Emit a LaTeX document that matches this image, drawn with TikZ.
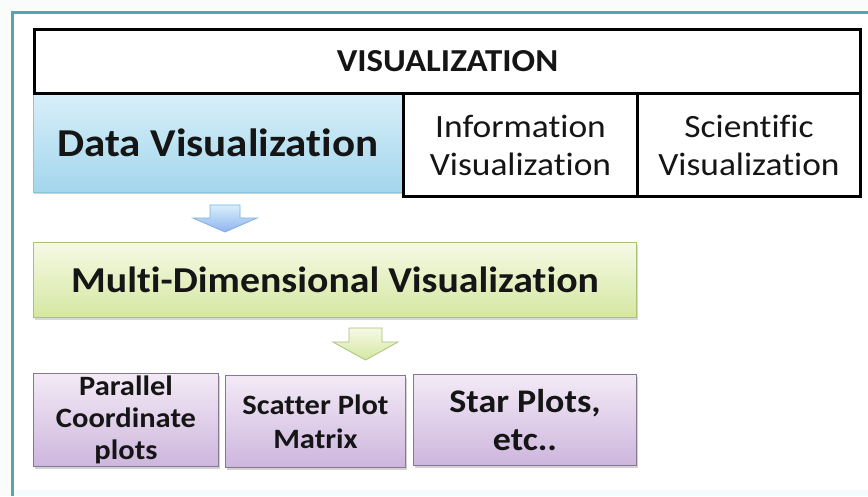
\documentclass[tikz,border=0pt]{standalone}
\usepackage{fontspec}
\setmainfont[Ligatures={NoCommon},FakeStretch=1.09]{Carlito}
\usetikzlibrary{shadows}
\definecolor{framec}{HTML}{5AA5AC}
\definecolor{dvtop}{HTML}{D8EFF9}
\definecolor{dvbot}{HTML}{A3D6EC}
\definecolor{dvedge}{HTML}{8CC4DC}
\definecolor{mdtop}{HTML}{F6F9E4}
\definecolor{mdbot}{HTML}{D5E7A2}
\definecolor{mdedge}{HTML}{A9C27A}
\definecolor{pptop}{HTML}{F3EAF6}
\definecolor{ppbot}{HTML}{CDB6DD}
\definecolor{ppedge}{HTML}{857890}
\definecolor{txt}{HTML}{151515}
\tikzset{
  blackbox/.style={draw=black, line width=3pt, fill=white, inner sep=0pt, align=center, anchor=north west, text=txt},
  databox/.style={top color=dvtop, bottom color=dvbot, draw=dvedge, line width=0.6pt, inner sep=0pt, anchor=north west, text=txt,
    drop shadow={shadow xshift=1pt, shadow yshift=-2pt, opacity=0.35, fill=gray}},
  mdbox/.style={top color=mdtop, bottom color=mdbot, draw=mdedge, line width=1pt, inner sep=0pt, anchor=north west, text=txt,
    drop shadow={shadow xshift=1pt, shadow yshift=-2pt, opacity=0.3, fill=gray}},
  ppbox/.style={top color=pptop, bottom color=ppbot, draw=ppedge, line width=1pt, inner sep=0pt, anchor=north west, align=center, text=txt,
    drop shadow={shadow xshift=1pt, shadow yshift=-2pt, opacity=0.35, fill=gray}},
  bluearrow/.style={top color=dvtop, bottom color=dvbot!80!blue!90, draw=dvedge!90!blue, line width=0.8pt, line join=miter},
  greenarrow/.style={top color=mdtop, bottom color=mdbot, draw=mdedge, line width=0.8pt, line join=miter},
}
\begin{document}
\begin{tikzpicture}[x=1pt,y=-1pt]
\useasboundingbox (0,0) rectangle (868,496);
\fill[white!97!framec] (0,0) rectangle (868,496);
\fill[white] (12,12) rectangle (868,490);
\fill[white!94!framec] (12,490) rectangle (868,496);
\draw[framec, line width=3pt] (12,496) -- (12,12) -- (868,12);

% data visualization (under the black frames)
\node[databox, minimum width=369pt, minimum height=100pt,
      font=\fontsize{39.5}{44}\selectfont\bfseries] (data) at (33,92) {Data Visualization};

\node[blackbox, minimum width=826pt, minimum height=64pt,
      font=\fontsize{32}{36}\selectfont\bfseries] (vis) at (33,28) {VISUALIZATION};
\node[blackbox, minimum width=234pt, minimum height=103pt,
      font=\fontsize{32.5}{38}\selectfont] (info) at (402,92) {Information\\Visualization};
\node[blackbox, minimum width=223pt, minimum height=103pt,
      font=\fontsize{32.5}{38}\selectfont] (sci) at (636,92) {Scientific\\Visualization};

\node[mdbox, minimum width=603pt, minimum height=75pt,
      font=\fontsize{36.5}{40}\selectfont\bfseries] (md) at (33,242) {Multi-Dimensional Visualization};

\node[ppbox, minimum width=185pt, minimum height=93pt,
      font=\fontsize{28}{32}\selectfont\bfseries] (pc) at (33,373) {Parallel\\Coordinate\\plots};
\node[ppbox, minimum width=180pt, minimum height=92pt,
      font=\fontsize{28}{34}\selectfont\bfseries] (sp) at (225,375) {Scatter Plot\\Matrix};
\node[ppbox, minimum width=223pt, minimum height=91pt,
      font=\fontsize{33}{38}\selectfont\bfseries] (st) at (413,374) {Star Plots,\\etc..};

% block arrows
\path[bluearrow] (210,205) -- (240,205) -- (240,218) -- (257,218) -- (225,232) -- (193,218) -- (210,218) -- cycle;
\path[greenarrow] (349,328) -- (382,328) -- (382,342) -- (398,342) -- (365.5,360) -- (333,342) -- (349,342) -- cycle;
\end{tikzpicture}
\end{document}
